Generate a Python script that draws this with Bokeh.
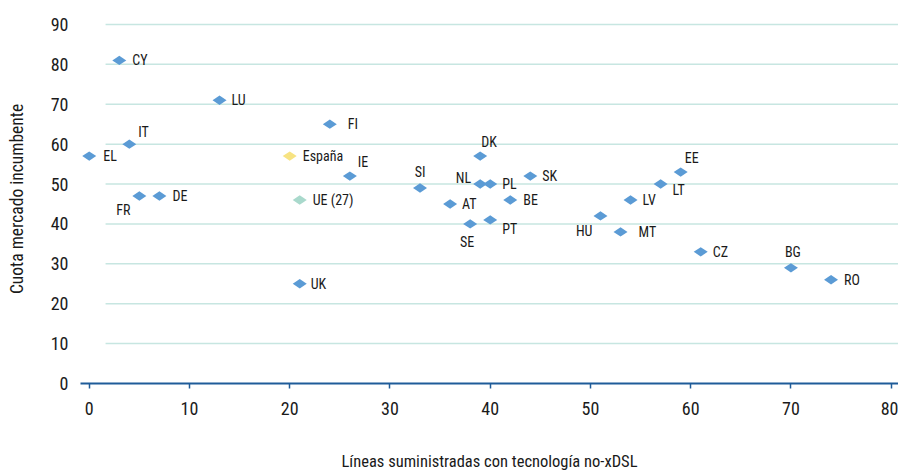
import numpy as np
from bokeh.plotting import figure
from bokeh.models import ColumnDataSource, Range1d, FixedTicker
from bokeh.embed import file_html
from bokeh.resources import INLINE

# ---- data ----
countries = ["EL", "CY", "LU", "IT", "FR", "DE", "FI", "IE", "SI", "DK", "NL", "PL", "SK",
             "AT", "BE", "SE", "PT", "UK", "HU", "MT", "LV", "LT", "EE", "CZ", "BG", "RO"]
non_xdsl = [0, 3, 13, 4, 5, 7, 24, 26, 33, 39, 39, 40, 44,
            36, 42, 38, 40, 21, 51, 53, 54, 57, 59, 61, 70, 74]
cuota = [57, 81, 71, 60, 47, 47, 65, 52, 49, 57, 50, 50, 52,
         45, 46, 40, 41, 25, 42, 38, 46, 50, 53, 33, 29, 26]

spain_name = ["España"]
spain_x = [20]
spain_y = [57]

eu_name = ["UE (27)"]
eu_x = [21]
eu_y = [46]

x_ticks = [0, 10, 20, 30, 40, 50, 60, 70, 80]
y_ticks = [0, 10, 20, 30, 40, 50, 60, 70, 80, 90]

x_title = "Líneas suministradas con tecnología no-xDSL"
y_title = "Cuota mercado incumbente"

# ---- label placement (style: pixel offsets, alignment) ----
placement = {
    "EL": (14, 0, "left"), "CY": (13, 0, "left"), "LU": (12, 0, "left"),
    "IT": (9, -12, "left"), "FR": (-9, 14, "right"), "DE": (13, 0, "left"),
    "FI": (18, 0, "left"), "IE": (8, -14, "left"), "SI": (0, -16, "center"),
    "DK": (1, -14, "left"), "NL": (-9, -6, "right"), "PL": (12, 0, "left"),
    "SK": (12, 0, "left"), "AT": (12, 0, "left"), "BE": (13, 0, "left"),
    "SE": (-3, 18, "center"), "PT": (12, 9, "left"), "UK": (11, 0, "left"),
    "HU": (-8, 15, "right"), "MT": (18, 0, "left"), "LV": (12, 0, "left"),
    "LT": (12, 6, "left"), "EE": (4, -14, "left"), "CZ": (12, 0, "left"),
    "BG": (2, -16, "center"), "RO": (13, 0, "left"),
    "España": (13, 0, "left"), "UE (27)": (13, 0, "left"),
}

FONT = "Roboto Condensed, Roboto, sans-serif"
BLUE = "#5B9BD5"
YELLOW = "#F7E382"
TEAL = "#A9D9CC"
GRID = "#C7E6E1"
AXIS = "#1F5C99"
TEXT = "#1a1a1a"
X_START, X_END = -0.87, 80.73
GRID_START = 1.63   # gridlines begin a little right of the y axis, as in the original

p = figure(width=898, height=473, output_backend="svg", toolbar_location=None,
           x_range=Range1d(X_START, X_END), y_range=Range1d(0, 92.5),
           min_border_left=80, min_border_right=0, min_border_top=14, min_border_bottom=90)
p.outline_line_color = None
p.background_fill_color = "white"
p.border_fill_color = "white"
p.xgrid.grid_line_color = None
p.ygrid.grid_line_color = None

# horizontal gridlines
p.segment(x0=GRID_START, x1=X_END, y0=y_ticks[1:], y1=y_ticks[1:],
          line_color=GRID, line_width=1.5)

# x axis
p.xaxis.ticker = FixedTicker(ticks=x_ticks)
p.xaxis.axis_line_color = AXIS
p.xaxis.axis_line_width = 2
p.xaxis.major_tick_line_color = AXIS
p.xaxis.major_tick_line_width = 1.5
p.xaxis.major_tick_in = 0
p.xaxis.major_tick_out = 5
p.xaxis.minor_tick_line_color = None
p.xaxis.major_label_standoff = 13
p.xaxis.major_label_text_font = FONT
p.xaxis.major_label_text_font_size = "18px"
p.xaxis.major_label_text_color = TEXT
p.xaxis.axis_label = x_title
p.xaxis.axis_label_text_font = FONT
p.xaxis.axis_label_text_font_style = "normal"
p.xaxis.axis_label_text_font_size = "16.5px"
p.xaxis.axis_label_text_color = TEXT
p.xaxis.axis_label_standoff = 34

# y axis
p.yaxis.ticker = FixedTicker(ticks=y_ticks)
p.yaxis.axis_line_color = None
p.yaxis.major_tick_line_color = None
p.yaxis.minor_tick_line_color = None
p.yaxis.major_label_standoff = 6
p.yaxis.major_label_text_font = FONT
p.yaxis.major_label_text_font_size = "18px"
p.yaxis.major_label_text_color = TEXT
p.yaxis.axis_label = y_title
p.yaxis.axis_label_text_font = FONT
p.yaxis.axis_label_text_font_style = "normal"
p.yaxis.axis_label_text_font_size = "17.5px"
p.yaxis.axis_label_text_color = TEXT
p.yaxis.axis_label_standoff = 21

# points
main = ColumnDataSource(dict(x=non_xdsl, y=cuota, name=countries))
p.scatter(x="x", y="y", source=main, marker="diamond", angle=np.pi / 2,
          size=14, fill_color=BLUE, line_color=None)
p.scatter(x=spain_x, y=spain_y, marker="diamond", angle=np.pi / 2,
          size=14, fill_color=YELLOW, line_color=None)
p.scatter(x=eu_x, y=eu_y, marker="diamond", angle=np.pi / 2,
          size=14, fill_color=TEAL, line_color=None)

# labels
all_names = countries + spain_name + eu_name
all_x = non_xdsl + spain_x + eu_x
all_y = cuota + spain_y + eu_y
lab = ColumnDataSource(dict(
    x=all_x, y=all_y, name=all_names,
    dx=[placement[n][0] for n in all_names],
    dy=[placement[n][1] for n in all_names],
    align=[placement[n][2] for n in all_names],
))
p.text(x="x", y="y", text="name", source=lab, x_offset="dx", y_offset="dy",
       text_align="align", text_baseline="middle",
       text_font={"value": FONT}, text_font_size={"value": "14px"}, text_color=TEXT)

open("out.html", "w").write(file_html(p, INLINE))
